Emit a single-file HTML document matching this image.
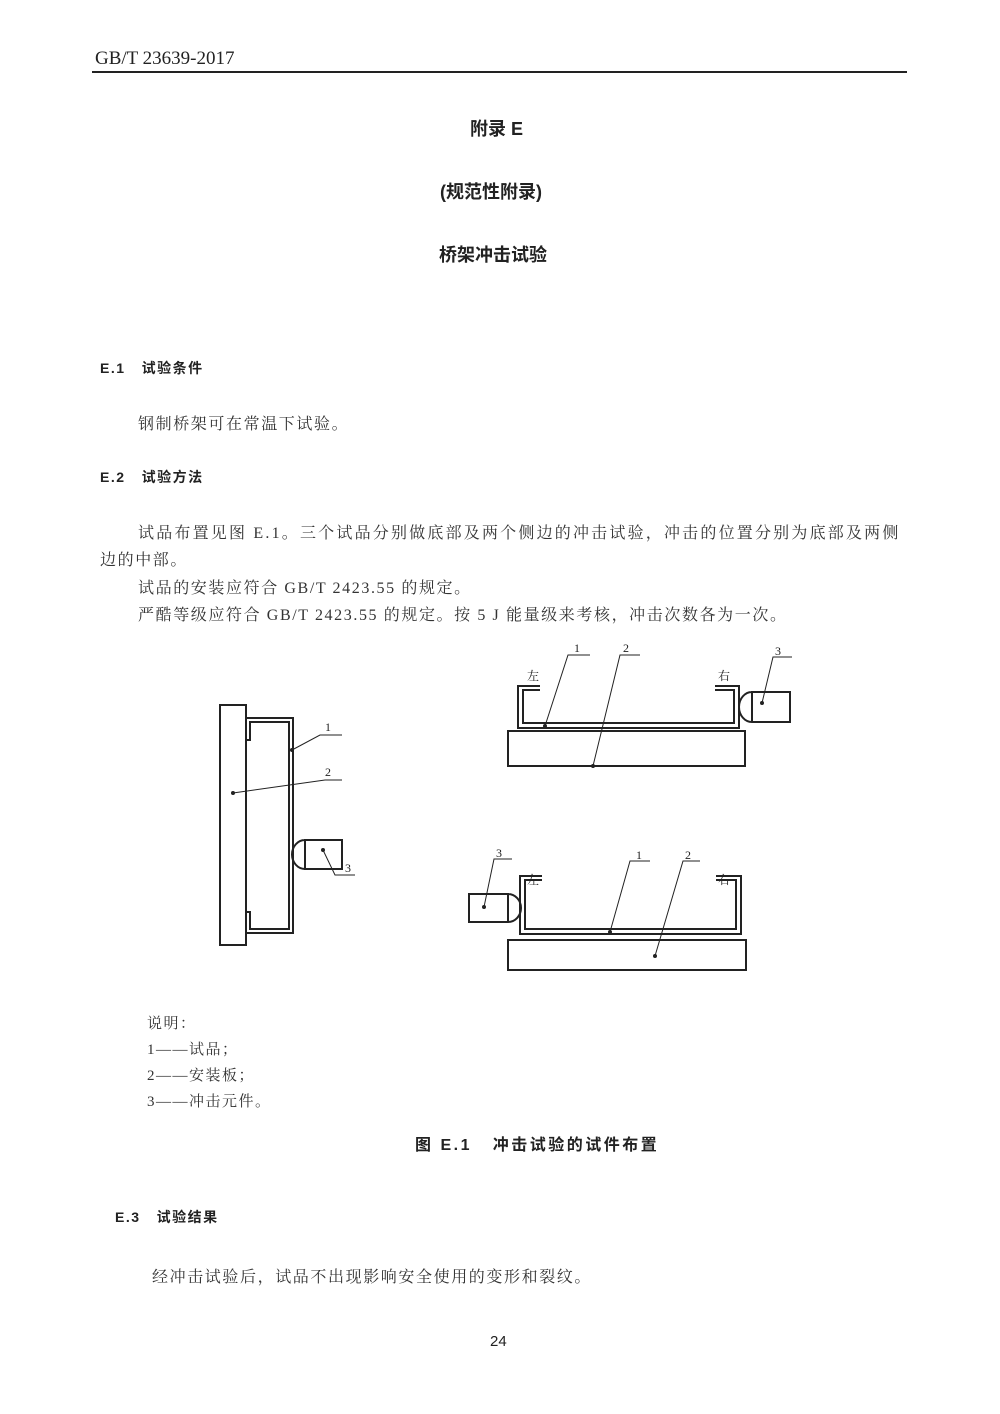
<!DOCTYPE html>
<html><head><meta charset="utf-8">
<style>
html,body{margin:0;padding:0;background:#fff}
body{width:1000px;height:1414px;position:relative;overflow:hidden;font-family:"Liberation Serif","Noto Serif CJK SC",serif;color:#222}
.t{position:absolute;white-space:nowrap}
.h{font-family:"Liberation Sans","Noto Sans CJK SC",sans-serif;font-weight:bold}
.s{font-family:"Liberation Serif","Noto Serif CJK SC",serif;font-size:16px;letter-spacing:1.6px;color:#333}
svg{position:absolute;left:0;top:0}
</style></head><body>
<div class="t" style="left:95px;top:48px;font-size:19px">GB/T 23639-2017</div>
<div style="position:absolute;left:92px;top:71px;width:815px;height:2px;background:#222"></div>
<div class="t h" style="left:470px;top:115px;font-size:18px">附录 E</div>
<div class="t h" style="left:440px;top:178px;font-size:18px">(规范性附录)</div>
<div class="t h" style="left:439px;top:241px;font-size:18px">桥架冲击试验</div>
<div class="t h" style="left:100px;top:358px;font-size:14px;letter-spacing:1.5px">E.1&nbsp;&nbsp; 试验条件</div>
<div class="t s" style="left:138px;top:411px">钢制桥架可在常温下试验。</div>
<div class="t h" style="left:100px;top:467px;font-size:14px;letter-spacing:1.5px">E.2&nbsp;&nbsp; 试验方法</div>
<div class="t s" style="left:138px;top:520px;letter-spacing:2.2px">试品布置见图 E.1。三个试品分别做底部及两个侧边的冲击试验，冲击的位置分别为底部及两侧</div>
<div class="t s" style="left:100px;top:547px">边的中部。</div>
<div class="t s" style="left:138px;top:575px">试品的安装应符合 GB/T 2423.55 的规定。</div>
<div class="t s" style="left:138px;top:602px">严酷等级应符合 GB/T 2423.55 的规定。按 5 J 能量级来考核，冲击次数各为一次。</div>

<svg width="1000" height="1414" viewBox="0 0 1000 1414" fill="none" stroke="#222" stroke-width="2">
<rect x="220" y="705" width="26" height="240"/>
<path d="M246 718 H293 V933 H246 M246 730 V740 H250 V722 H289 V929 H250 V912 H246"/>
<path d="M305 840 H342 V869 H305 Z M305 840 A13 14.5 0 0 0 305 869"/>
<g stroke-width="1"><path d="M292 750 L320 735 H342 M233 793 L325 780 H342 M323 850 L335 875 H355"/></g>
<g fill="#222" stroke="none"><circle cx="292" cy="750" r="2"/><circle cx="233" cy="793" r="2"/><circle cx="323" cy="850" r="2"/></g>
<rect x="508" y="731" width="237" height="35"/>
<path d="M540 686 H518 V728 H739 V686 H715 M540 690 H523 V723 H734 V690 H715"/>
<path d="M752 692 H790 V722 H752 Z M752 692 A13 15 0 0 0 752 722"/>
<g stroke-width="1"><path d="M545 726 L568 655 H590 M593 766 L620 655 H640 M762 703 L773 657 H792"/></g>
<g fill="#222" stroke="none"><circle cx="545" cy="726" r="2"/><circle cx="593" cy="766" r="2"/><circle cx="762" cy="703" r="2"/></g>
<rect x="508" y="940" width="238" height="30"/>
<path d="M542 876 H520 V934 H741 V876 H716 M542 880 H525 V929 H736 V880 H716"/>
<path d="M469 894 H508 V922 H469 Z M508 894 A13 14 0 0 1 508 922"/>
<g stroke-width="1"><path d="M610 932 L630 861 H650 M655 956 L683 861 H700 M484 907 L494 859 H512"/></g>
<g fill="#222" stroke="none"><circle cx="610" cy="932" r="2"/><circle cx="655" cy="956" r="2"/><circle cx="484" cy="907" r="2"/></g>
<g fill="#222" stroke="none" font-size="12" font-family="Liberation Serif,Noto Serif CJK SC,serif">
<text x="325" y="731">1</text><text x="325" y="776">2</text><text x="345" y="872">3</text>
<text x="574" y="652">1</text><text x="623" y="652">2</text><text x="775" y="655">3</text>
<text x="636" y="859">1</text><text x="685" y="859">2</text><text x="496" y="857">3</text>
<text x="527" y="680">左</text><text x="718" y="680">右</text>
<text x="527" y="884">左</text><text x="718" y="884">右</text>
</g>
</svg>

<div class="t s" style="left:147px;top:1012px;font-size:15px;letter-spacing:1.5px">说明：</div>
<div class="t s" style="left:147px;top:1038px;font-size:15px;letter-spacing:1.5px">1——试品；</div>
<div class="t s" style="left:147px;top:1064px;font-size:15px;letter-spacing:1.5px">2——安装板；</div>
<div class="t s" style="left:147px;top:1090px;font-size:15px;letter-spacing:1.5px">3——冲击元件。</div>
<div class="t h" style="left:415px;top:1131px;font-size:16px;letter-spacing:2.5px">图 E.1&nbsp;&nbsp; 冲击试验的试件布置</div>
<div class="t h" style="left:115px;top:1207px;font-size:14px;letter-spacing:1.5px">E.3&nbsp;&nbsp; 试验结果</div>
<div class="t s" style="left:152px;top:1264px">经冲击试验后，试品不出现影响安全使用的变形和裂纹。</div>
<div class="t" style="left:490px;top:1333px;font-size:15px;font-family:'Liberation Sans',sans-serif">24</div>
</body></html>
